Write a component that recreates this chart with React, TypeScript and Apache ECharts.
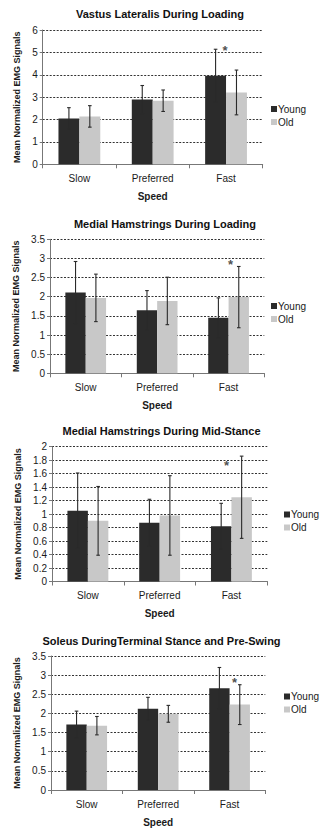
import React, { useEffect, useRef } from "react";
import * as echarts from "echarts";

const categories = ["Slow", "Preferred", "Fast"];
const legendNames = ["Young", "Old"];

const titles = [
  "Vastus Lateralis During Loading",
  "Medial Hamstrings During Loading",
  "Medial Hamstrings During Mid-Stance",
  "Soleus DuringTerminal Stance and Pre-Swing",
];

// Panel 1: Vastus Lateralis During Loading
const vlYoung = [2.05, 2.89, 3.96];
const vlYoungErr = [0.48, 0.63, 1.18];
const vlOld = [2.14, 2.84, 3.21];
const vlOldErr = [0.48, 0.48, 1.0];

// Panel 2: Medial Hamstrings During Loading
const mhlYoung = [2.11, 1.65, 1.45];
const mhlYoungErr = [0.81, 0.51, 0.52];
const mhlOld = [1.97, 1.89, 1.99];
const mhlOldErr = [0.62, 0.62, 0.8];

// Panel 3: Medial Hamstrings During Mid-Stance
const mhmYoung = [1.05, 0.87, 0.82];
const mhmYoungErr = [0.56, 0.35, 0.34];
const mhmOld = [0.9, 0.98, 1.25];
const mhmOldErr = [0.51, 0.59, 0.61];

// Panel 4: Soleus During Terminal Stance and Pre-Swing
const solYoung = [1.71, 2.12, 2.66];
const solYoungErr = [0.35, 0.3, 0.54];
const solOld = [1.68, 1.99, 2.23];
const solOldErr = [0.24, 0.22, 0.52];

// y axis ranges
const yMax = [6, 3.5, 2, 3.5];
const yInterval = [1, 0.5, 0.2, 0.5];

// significance star value (at "Fast")
const starValues = [5.2, 2.92, 1.76, 2.89];

const FONT = '"Liberation Sans", Arial, Helvetica, sans-serif';
const GAP = 0.43;

const layouts = [
  { left: 42.7, right: 262.7, top: 30, bottom: 164.3, titleX: 160, titleY: 14, legX: 271, legY: 104, starDx: -1 },
  { left: 50, right: 264.3, top: 239.3, bottom: 373.3, titleX: 165, titleY: 223.5, legX: 271, legY: 301, starDx: 2 },
  { left: 52, right: 267.3, top: 446.7, bottom: 581.5, titleX: 161.5, titleY: 431, legX: 284, legY: 509.5, starDx: -5 },
  { left: 51, right: 265.3, top: 656, bottom: 790.5, titleX: 161.5, titleY: 641, legX: 284, legY: 691.5, starDx: 5 },
];

const panels = [
  { young: vlYoung, youngErr: vlYoungErr, old: vlOld, oldErr: vlOldErr },
  { young: mhlYoung, youngErr: mhlYoungErr, old: mhlOld, oldErr: mhlOldErr },
  { young: mhmYoung, youngErr: mhmYoungErr, old: mhmOld, oldErr: mhmOldErr },
  { young: solYoung, youngErr: solYoungErr, old: solOld, oldErr: solOldErr },
];

function errorRender(params: any, api: any) {
  const cat = api.value(0);
  const mean = api.value(1);
  const err = api.value(2);
  const side = api.value(3);
  const catW = api.size([1, 0])[0];
  const bw = (catW * (1 - GAP)) / 2;
  const x = api.coord([cat, mean])[0] + (side * bw) / 2;
  const yTop = api.coord([cat, mean + err])[1];
  const yBot = api.coord([cat, mean - err])[1];
  const cap = 1.8;
  const style = { stroke: "#2a2a2a", lineWidth: 1.1 };
  return {
    type: "group",
    children: [
      { type: "line", shape: { x1: x, y1: yTop, x2: x, y2: yBot }, style },
      { type: "line", shape: { x1: x - cap, y1: yTop, x2: x + cap, y2: yTop }, style },
      { type: "line", shape: { x1: x - cap, y1: yBot, x2: x + cap, y2: yBot }, style },
    ],
  };
}

function buildOption() {
  const grid: any[] = [];
  const xAxis: any[] = [];
  const yAxis: any[] = [];
  const series: any[] = [];
  const legend: any[] = [];
  const graphic: any[] = [];

  layouts.forEach((L, i) => {
    const P = panels[i];
    grid.push({ left: L.left, width: L.right - L.left, top: L.top, height: L.bottom - L.top, containLabel: false });
    xAxis.push({
      type: "category",
      gridIndex: i,
      data: categories,
      boundaryGap: true,
      axisLine: { lineStyle: { color: "#777", width: 1 } },
      axisTick: { show: true, length: 4, lineStyle: { color: "#777" } },
      axisLabel: { color: "#1a1a1a", fontSize: 10, fontFamily: FONT, margin: 9 },
      name: "Speed",
      nameLocation: "middle",
      nameGap: 27,
      nameTextStyle: { color: "#1a1a1a", fontSize: 10, fontWeight: "bold", fontFamily: FONT },
      splitLine: { show: false },
    });
    yAxis.push({
      type: "value",
      gridIndex: i,
      min: 0,
      max: yMax[i],
      interval: yInterval[i],
      axisLine: { show: true, lineStyle: { color: "#777", width: 1 } },
      axisTick: { show: true, length: 3, lineStyle: { color: "#777" } },
      axisLabel: {
        color: "#1a1a1a",
        fontSize: 10,
        fontFamily: FONT,
        margin: 5,
        formatter: (v: number) => String(+v.toFixed(2)),
      },
      splitLine: { show: true, lineStyle: { color: "#333", type: [2, 1.5], width: 1 } },
      name: "Mean Normalized EMG Signals",
      nameLocation: "middle",
      nameRotate: 90,
      nameGap: 15,
      nameTextStyle: { color: "#1a1a1a", fontSize: 9, fontWeight: "bold", fontFamily: FONT },
    });
    series.push({
      type: "bar",
      name: "Young",
      xAxisIndex: i,
      yAxisIndex: i,
      data: P.young,
      barGap: "0%",
      barCategoryGap: GAP * 100 + "%",
      itemStyle: { color: "#2b2b2b" },
    });
    series.push({
      type: "bar",
      name: "Old",
      xAxisIndex: i,
      yAxisIndex: i,
      data: P.old,
      barGap: "0%",
      barCategoryGap: GAP * 100 + "%",
      itemStyle: { color: "#c8c8c8" },
    });
    const errData: any[] = [];
    categories.forEach((_, c) => {
      errData.push([c, P.young[c], P.youngErr[c], -1]);
      errData.push([c, P.old[c], P.oldErr[c], 1]);
    });
    series.push({
      type: "custom",
      xAxisIndex: i,
      yAxisIndex: i,
      data: errData,
      encode: { x: 0, y: 1 },
      renderItem: errorRender,
      z: 5,
      silent: true,
    });
    series.push({
      type: "scatter",
      xAxisIndex: i,
      yAxisIndex: i,
      data: [[2, starValues[i]]],
      symbolSize: 0,
      silent: true,
      label: {
        show: true,
        position: "inside",
        offset: [L.starDx, 3],
        formatter: "*",
        color: "#222",
        fontSize: 13,
        fontWeight: "bold",
        fontFamily: FONT,
      },
      z: 6,
    });
    legend.push({
      data: legendNames,
      orient: "vertical",
      left: L.legX,
      top: L.legY,
      icon: "rect",
      itemWidth: 6,
      itemHeight: 6,
      itemGap: 3,
      textStyle: { color: "#1a1a1a", fontSize: 10, fontFamily: FONT, padding: [0, 0, 0, -4] },
      selectedMode: false,
      padding: 0,
    });
    graphic.push({
      type: "text",
      x: L.titleX,
      y: L.titleY,
      style: {
        text: titles[i],
        textAlign: "center",
        textVerticalAlign: "middle",
        font: "bold 11px " + FONT,
        fill: "#111",
      },
    });
  });

  return {
    animation: false,
    backgroundColor: "#fff",
    grid,
    xAxis,
    yAxis,
    series,
    legend,
    graphic,
  };
}

export default function App() {
  const ref = useRef<HTMLDivElement>(null);
  useEffect(() => {
    if (!ref.current) return;
    const chart = echarts.init(ref.current, null, { renderer: "svg" });
    chart.setOption(buildOption() as any);
    return () => chart.dispose();
  }, []);
  return (
    <div
      ref={ref}
      style={{ position: "absolute", left: 0, top: 0, width: 320, height: 828, background: "#fff" }}
    />
  );
}
